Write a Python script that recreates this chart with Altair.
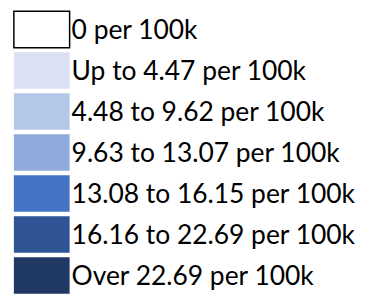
import altair as alt
import pandas as pd

labels = [
    "0 per 100k",
    "Up to 4.47 per 100k",
    "4.48 to 9.62 per 100k",
    "9.63 to 13.07 per 100k",
    "13.08 to 16.15 per 100k",
    "16.16 to 22.69 per 100k",
    "Over 22.69 per 100k",
]
colors = ["#FFFFFF", "#D9E1F2", "#B4C7E7", "#8FAADC", "#4472C4", "#2F5597", "#1F3864"]

df = pd.DataFrame({"label": labels, "color": colors})

yenc = alt.Y("label:N", sort=labels, axis=None,
             scale=alt.Scale(paddingInner=0.11, paddingOuter=0))

swatches = alt.Chart(df).mark_rect().encode(
    y=yenc,
    x=alt.value(6),
    x2=alt.value(63),
    fill=alt.Color("label:N", scale=alt.Scale(domain=labels, range=colors), legend=None),
    stroke=alt.condition(alt.datum.label == labels[0], alt.value("#000000"), alt.value("transparent")),
    strokeWidth=alt.value(1.5),
)

texts = alt.Chart(df).mark_text(align="left", baseline="middle", font="Lato",
                                fontSize=27, color="#000000", dy=2).encode(
    y=yenc,
    x=alt.value(65),
    text="label:N",
)

chart = alt.layer(swatches, texts).properties(
    width=366, height=289, padding=0, autosize=alt.AutoSizeParams(type="none"),
    background="#FFFFFF",
).configure_view(strokeWidth=0)

chart.save("out.html", embed_options={"renderer": "svg", "actions": False})
